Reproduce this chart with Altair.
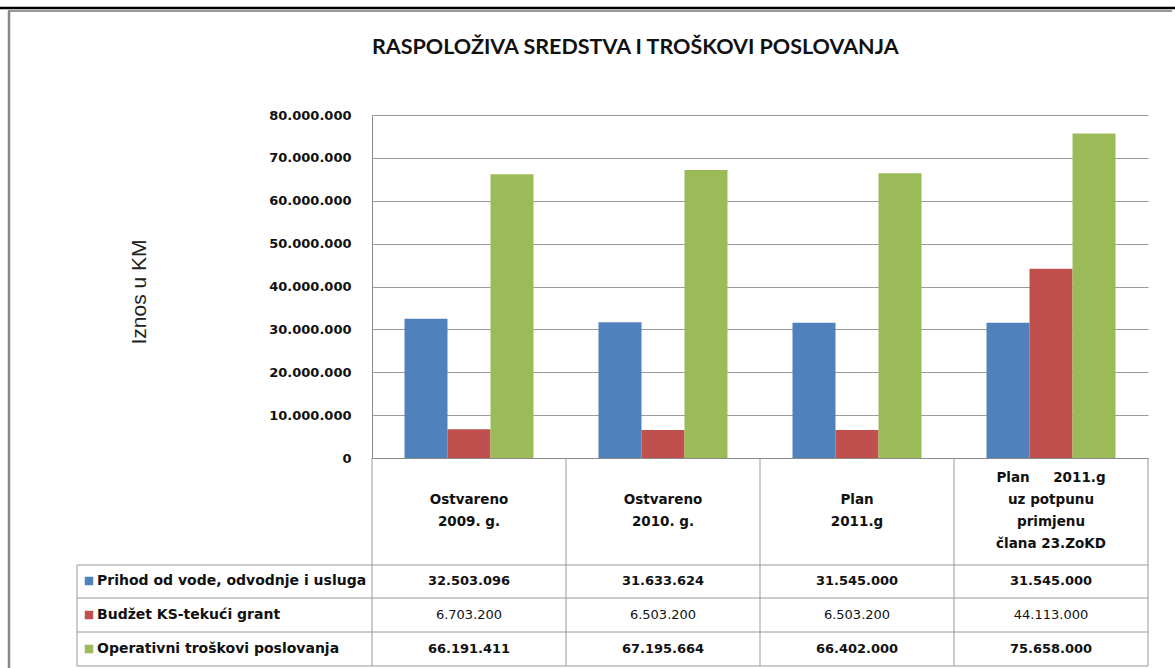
import altair as alt
import pandas as pd

# ---------------- data ----------------
NB = "\u00a0"
categories = ["Ostvareno\n2009. g.", "Ostvareno\n2010. g.", "Plan\n2011.g",
              "Plan" + NB * 5 + "2011.g\nuz potpunu\nprimjenu\nčlana 23.ZoKD"]
series = ["Prihod od vode, odvodnje i usluga", "Budžet KS-tekući grant",
          "Operativni troškovi poslovanja"]
prihod = [32503096, 31633624, 31545000, 31545000]
budzet = [6703200, 6503200, 6503200, 44113000]
troskovi = [66191411, 67195664, 66402000, 75658000]
colors = ["#4F81BD", "#C0504D", "#9BBB59"]
y_ticks = [0, 10000000, 20000000, 30000000, 40000000, 50000000, 60000000, 70000000, 80000000]

def fmt(v):
    return f"{v:,}".replace(",", ".")

rows = []
for s, vals in zip(series, [prihod, budzet, troskovi]):
    for c, v in zip(categories, vals):
        rows.append({"cat": c, "series": s, "value": v, "label": fmt(v)})
df = pd.DataFrame(rows)
cat_df = pd.DataFrame({"cat": categories,
                       "nlines": [c.count("\n") + 1 for c in categories]})

# ---------------- layout (pixels) ----------------
W, H = 776, 343
OX, OY = 372, 115           # plot origin within page
TXT = "DejaVu Sans"
one = pd.DataFrame({"a": [0]})

x_enc = alt.X("cat:N", sort=categories,
              scale=alt.Scale(paddingInner=0.335, paddingOuter=0.1675),
              axis=alt.Axis(labels=False, ticks=False, title=None, domainColor="#8a8a8a",
                            grid=False))
color_enc = alt.Color("series:N", sort=series,
                      scale=alt.Scale(domain=series, range=colors), legend=None)

bars = alt.Chart(df).mark_bar().encode(
    x=x_enc,
    xOffset=alt.XOffset("series:N", sort=series),
    y=alt.Y("value:Q", scale=alt.Scale(domain=[0, 80000000], nice=False),
            axis=alt.Axis(values=y_ticks, title=None, ticks=False, grid=True,
                          gridColor="#9a9a9a", domainColor="#8a8a8a",
                          labelFont=TXT, labelFontSize=13, labelFontWeight="bold",
                          labelColor="#111", labelPadding=21,
                          labelExpr="replace(format(datum.value, ','), regexp(',', 'g'), '.')")),
    color=color_enc,
)

layers = [bars]

def rule(x1, x2, y1, y2, color="#9a9a9a", w=1):
    return alt.Chart(one).mark_rule(color=color, strokeWidth=w).encode(
        x=alt.value(x1), x2=alt.value(x2), y=alt.value(y1), y2=alt.value(y2))

# table grid
tbl_left = 77 - OX
tbl_bottom = 666 - OY
for i in range(5):
    xx = i * W / 4
    layers.append(rule(xx, xx, H, tbl_bottom))
layers.append(rule(tbl_left, tbl_left, 565 - OY, tbl_bottom))
for yy in [565, 598, 632, 666]:
    layers.append(rule(tbl_left, W, yy - OY, yy - OY))

# header category labels (block centred vertically in the header cell)
LH = 22
for n in sorted(cat_df["nlines"].unique()):
    sub = cat_df[cat_df["nlines"] == n]
    first_y = 511 - (n - 1) * LH / 2
    layers.append(alt.Chart(sub).mark_text(
        lineBreak="\n", baseline="middle", lineHeight=LH, font=TXT, fontSize=13.5,
        fontWeight="bold", color="#111").encode(
        x=alt.X("cat:N", sort=categories), y=alt.value(first_y - OY), text="cat:N"))

# table values, row labels and legend squares
row_y = [581, 615, 649]
weights = ["bold", "normal", "bold"]
for s, ry, fw in zip(series, row_y, weights):
    sub = df[df["series"] == s]
    layers.append(alt.Chart(sub).mark_text(
        font=TXT, fontSize=13, fontWeight=fw, color="#111", baseline="middle").encode(
        x=alt.X("cat:N", sort=categories), y=alt.value(ry - OY), text="label:N"))
    lab = pd.DataFrame({"series": [s]})
    layers.append(alt.Chart(lab).mark_text(
        font=TXT, fontSize=14, fontWeight="bold", color="#111", align="left",
        baseline="middle").encode(
        x=alt.value(97 - OX), y=alt.value(ry - OY), text="series:N"))
    layers.append(alt.Chart(lab).mark_square(size=72, opacity=1).encode(
        x=alt.value(89 - OX), y=alt.value(ry - OY), color=color_enc))

# y title
layers.append(alt.Chart(one).mark_text(
    text="Iznos u KM", angle=270, font="Liberation Sans", fontSize=21, color="#222",
    baseline="middle").encode(x=alt.value(140 - OX), y=alt.value(292 - OY)))

# chart title
layers.append(alt.Chart(one).mark_text(
    text="RASPOLOŽIVA SREDSTVA I TROŠKOVI POSLOVANJA", font="Lato", fontSize=21.5,
    fontWeight="bold", color="#111", align="left", baseline="middle").encode(
    x=alt.value(0), y=alt.value(48 - OY)))

# page decorations
layers.append(rule(-OX, 1175 - OX, 8 - OY, 8 - OY, color="#000", w=2.5))
layers.append(rule(8 - OX, 1172 - OX, 11 - OY, 11 - OY, color="#999", w=2))
layers.append(rule(9 - OX, 9 - OX, 11 - OY, 668 - OY, color="#888", w=2.5))

chart = alt.layer(*layers).properties(
    width=W, height=H,
    padding={"left": OX, "top": OY, "right": 1175 - OX - W, "bottom": 668 - OY - H},
    autosize="none", background="white",
).configure_view(stroke=None)

chart.save("out.html", embed_options={"renderer": "svg", "actions": False})
